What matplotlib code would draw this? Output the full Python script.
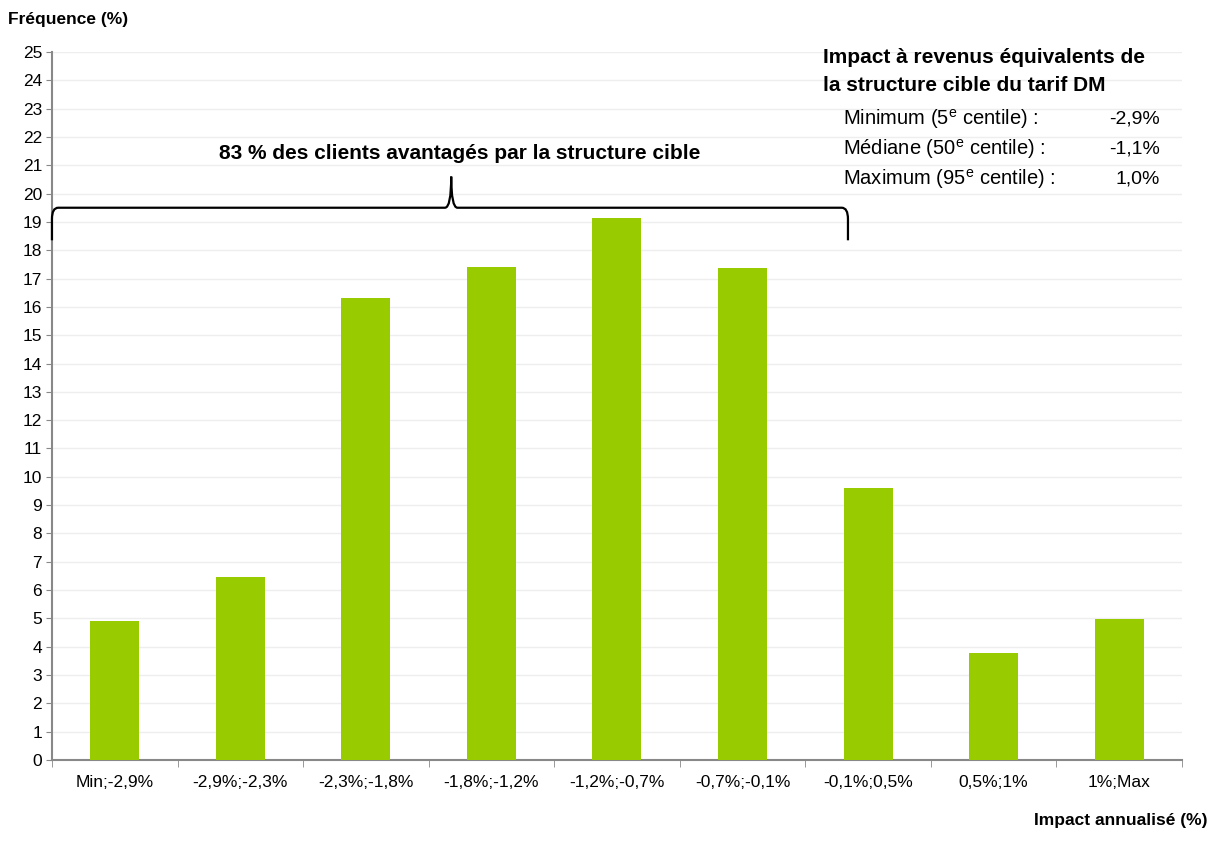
"""
Distribution de l'impact annualisé de la structure cible du tarif DM.
"""
import numpy as np
import matplotlib
matplotlib.use("Agg")
import matplotlib.pyplot as plt
from matplotlib.path import Path
from matplotlib.patches import PathPatch

plt.rcParams['font.family'] = ['Liberation Sans', 'DejaVu Sans']
plt.rcParams['mathtext.fontset'] = 'custom'
plt.rcParams['mathtext.rm'] = 'Liberation Sans'

categories = ['Min;-2,9%', '-2,9%;-2,3%', '-2,3%;-1,8%', '-1,8%;-1,2%',
              '-1,2%;-0,7%', '-0,7%;-0,1%', '-0,1%;0,5%', '0,5%;1%', '1%;Max']
frequence = [4.9, 6.45, 16.3, 17.4, 19.15, 17.37, 9.6, 3.78, 4.98]

stat_labels = [r'Minimum (5$^{\mathrm{e}}$ centile) :',
               r'Médiane (50$^{\mathrm{e}}$ centile) :',
               r'Maximum (95$^{\mathrm{e}}$ centile) :']
stat_values = ['-2,9%', '-1,1%', '1,0%']

fig = plt.figure(figsize=(12.11, 8.56), dpi=100)
ax = fig.add_axes([0.0429, 0.1121, 0.9331, 0.8272])

x = np.arange(len(categories))
ax.bar(x, frequence, width=0.39, color='#99cc00', zorder=3)

ax.set_xlim(-0.5, len(categories) - 0.5)
ax.set_ylim(0, 25)
ax.set_yticks(range(0, 26))
ax.grid(axis='y', color='#eeeeee', linewidth=1.0, zorder=0)
ax.tick_params(axis='y', labelsize=12.5, length=4, color='#888888', pad=3)

# category labels centred, ticks on the boundaries
ax.set_xticks(x)
ax.set_xticklabels(categories, fontsize=12.5)
ax.tick_params(axis='x', which='major', length=0, pad=11)
ax.set_xticks(np.arange(-0.5, len(categories)), minor=True)
ax.tick_params(axis='x', which='minor', length=5, color='#888888')

for side in ('top', 'right'):
    ax.spines[side].set_visible(False)
for side in ('left', 'bottom'):
    ax.spines[side].set_color('#888888')
    ax.spines[side].set_linewidth(1.5)

fig.text(0.007, 0.977, 'Fréquence (%)', fontsize=12.5, fontweight='bold',
         ha='left', va='center')
fig.text(0.997, 0.042, 'Impact annualisé (%)', fontsize=12.5,
         fontweight='bold', ha='right', va='center')

# accolade au-dessus des clients avantagés
x0, x1, xp = -0.5, 5.84, 2.68
yb, yh, yp = 18.35, 19.5, 20.6
dx, dy = 0.05, 0.4
verts = [(x0, yb), (x0, yh - dy), (x0, yh), (x0 + dx, yh),
         (xp - dx, yh), (xp, yh), (xp, yp),
         (xp, yh), (xp + dx, yh),
         (x1 - dx, yh), (x1, yh), (x1, yh - dy), (x1, yb)]
codes = [Path.MOVETO, Path.LINETO, Path.CURVE3, Path.CURVE3,
         Path.LINETO, Path.CURVE3, Path.CURVE3,
         Path.CURVE3, Path.CURVE3,
         Path.LINETO, Path.CURVE3, Path.CURVE3, Path.LINETO]
ax.add_patch(PathPatch(Path(verts, codes), facecolor='none',
                       edgecolor='black', linewidth=1.6, zorder=4,
                       clip_on=False))
ax.text(xp + 0.07, 21.4, '83 % des clients avantagés par la structure cible',
        fontsize=15, fontweight='bold', ha='center', va='center')

# encadré des statistiques
fig.text(0.680, 0.933, 'Impact à revenus équivalents de', fontsize=15,
         fontweight='bold', ha='left', va='center')
fig.text(0.680, 0.900, 'la structure cible du tarif DM', fontsize=15,
         fontweight='bold', ha='left', va='center')
for i, (lab, val) in enumerate(zip(stat_labels, stat_values)):
    yy = 0.861 - i * 0.0352
    fig.text(0.696, yy, lab, fontsize=14.5, ha='left', va='center')
    fig.text(0.958, yy, val, fontsize=14, ha='right', va='center')

fig.savefig('out.png', dpi=100)
